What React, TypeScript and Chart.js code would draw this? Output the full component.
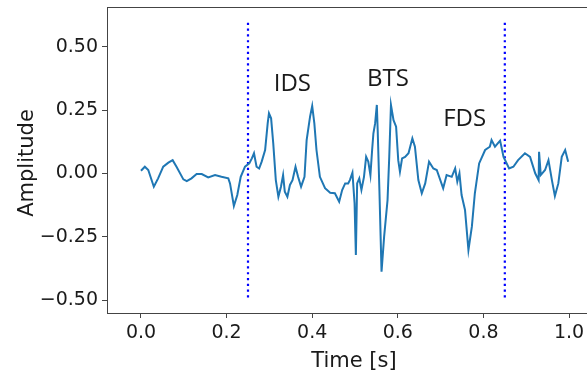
import React, { useEffect, useRef } from 'react';
import { Chart, registerables } from 'chart.js';

Chart.register(...registerables);

const timeS = [
  0.000, 0.009, 0.017, 0.030, 0.040, 0.052, 0.064, 0.074, 0.083, 0.099,
  0.107, 0.118, 0.130, 0.142, 0.157, 0.173, 0.188, 0.204, 0.208, 0.217,
  0.225, 0.233, 0.243, 0.253, 0.259, 0.264, 0.270, 0.276, 0.282, 0.290,
  0.296, 0.299, 0.304, 0.309, 0.315, 0.321, 0.327, 0.332, 0.336, 0.342,
  0.348, 0.354, 0.361, 0.367, 0.374, 0.382, 0.387, 0.395, 0.400, 0.405,
  0.410, 0.418, 0.430, 0.442, 0.453, 0.463, 0.470, 0.477, 0.484, 0.488,
  0.494, 0.499, 0.502, 0.505, 0.510, 0.515, 0.521, 0.526, 0.531, 0.536,
  0.540, 0.543, 0.547, 0.551, 0.553, 0.557, 0.562, 0.568, 0.576, 0.580,
  0.584, 0.590, 0.596, 0.601, 0.605, 0.610, 0.617, 0.625, 0.634, 0.640,
  0.648, 0.656, 0.664, 0.673, 0.683, 0.691, 0.706, 0.714, 0.726, 0.734,
  0.739, 0.744, 0.749, 0.757, 0.765, 0.773, 0.780, 0.790, 0.804, 0.815,
  0.819, 0.827, 0.839, 0.847, 0.860, 0.870, 0.881, 0.897, 0.909, 0.921,
  0.929, 0.930, 0.934, 0.944, 0.952, 0.960, 0.967, 0.975, 0.983, 0.991,
  0.998,
];

const amplitude = [
  0.011, 0.027, 0.014, -0.052, -0.019, 0.027, 0.043, 0.053, 0.027, -0.023,
  -0.030, -0.019, -0.002, -0.002, -0.015, -0.006, -0.013, -0.019, -0.039, -0.128,
  -0.085, -0.013, 0.027, 0.040, 0.060, 0.080, 0.027, 0.020, 0.047, 0.093,
  0.198, 0.238, 0.218, 0.119, -0.026, -0.092, -0.052, -0.006, -0.072, -0.092,
  -0.045, -0.026, 0.027, -0.013, -0.052, -0.013, 0.132, 0.225, 0.267, 0.198,
  0.093, -0.013, -0.058, -0.076, -0.078, -0.111, -0.065, -0.039, -0.039, -0.026,
  0.003, -0.118, -0.322, -0.039, -0.019, -0.065, -0.013, 0.066, 0.047, -0.006,
  0.093, 0.159, 0.198, 0.271, 0.172, -0.065, -0.388, -0.250, -0.105, 0.066,
  0.271, 0.211, 0.185, 0.053, 0.007, 0.060, 0.066, 0.080, 0.139, 0.106,
  -0.026, -0.078, -0.039, 0.047, 0.020, 0.014, -0.058, -0.006, -0.013, 0.020,
  -0.032, 0.001, -0.085, -0.144, -0.302, -0.210, -0.078, 0.040, 0.093, 0.106,
  0.132, 0.106, 0.130, 0.066, 0.020, 0.027, 0.053, 0.080, 0.066, 0.001,
  -0.026, 0.086, -0.006, 0.014, 0.053, -0.026, -0.089, -0.039, 0.066, 0.093,
  0.047,
];

const xTicks = [0.0, 0.2, 0.4, 0.6, 0.8, 1.0];
const yTicks = [-0.5, -0.25, 0.0, 0.25, 0.5];
const markerTimes = [0.25, 0.85];
const markerSpan = [-0.49, 0.6];
const annotationLabels = ['IDS', 'BTS', 'FDS'];
const annotationX = [0.31, 0.528, 0.706];
const annotationY = [0.326, 0.346, 0.188];
const xTitle = 'Time [s]';
const yTitle = 'Amplitude';

const TICK_FONT = { family: '"DejaVu Sans"', size: 19 };
const AXIS_COLOR = '#444';
const TEXT_COLOR = '#1a1a1a';

const overlayPlugin = {
  id: 'overlay',
  afterDraw(chart: any) {
    const { ctx, chartArea, scales } = chart;
    ctx.save();
    // top spine
    ctx.strokeStyle = AXIS_COLOR;
    ctx.lineWidth = 1;
    ctx.beginPath();
    ctx.moveTo(chartArea.left, Math.round(chartArea.top) + 0.5);
    ctx.lineTo(chartArea.right, Math.round(chartArea.top) + 0.5);
    ctx.stroke();

    // annotations
    ctx.fillStyle = TEXT_COLOR;
    ctx.font = '24px "Open Sans"';
    ctx.textAlign = 'left';
    ctx.textBaseline = 'alphabetic';
    annotationLabels.forEach((label, i) => {
      ctx.fillText(
        label,
        scales.x.getPixelForValue(annotationX[i]),
        scales.y.getPixelForValue(annotationY[i])
      );
    });

    // axis titles
    ctx.font = '21px "DejaVu Sans"';
    ctx.textAlign = 'center';
    ctx.fillText(xTitle, 354, 367);
    ctx.save();
    ctx.translate(33, (chartArea.top + chartArea.bottom) / 2 + 3);
    ctx.rotate(-Math.PI / 2);
    ctx.fillText(yTitle, 0, 0);
    ctx.restore();
    ctx.restore();
  },
};

export default function App() {
  const canvasRef = useRef<HTMLCanvasElement | null>(null);

  useEffect(() => {
    const canvas = canvasRef.current;
    if (!canvas) return;
    const signal = timeS.map((t, i) => ({ x: t, y: amplitude[i] }));
    const markerSets = markerTimes.map((t) => ({
      data: markerSpan.map((v) => ({ x: t, y: v })),
      borderColor: '#0000ff',
      borderWidth: 2.2,
      borderDash: [2.2, 3.6],
      borderCapStyle: 'butt' as const,
      pointRadius: 0,
      fill: false,
    }));

    const chart = new Chart(canvas, {
      type: 'line',
      data: {
        datasets: [
          {
            data: signal,
            borderColor: '#1f77b4',
            borderWidth: 2,
            pointRadius: 0,
            tension: 0,
            fill: false,
          },
          ...markerSets,
        ],
      },
      options: {
        responsive: false,
        animation: false,
        events: [],
        layout: { padding: { top: 7, right: 0, left: 0, bottom: 0 } },
        plugins: {
          legend: { display: false },
          tooltip: { enabled: false },
        },
        scales: {
          x: {
            type: 'linear',
            min: -0.0794,
            max: 1.042,
            afterBuildTicks: (scale: any) => {
              scale.ticks = xTicks.map((v) => ({ value: v }));
            },
            afterFit: (scale: any) => {
              scale.height = 60;
              scale.paddingLeft = 0;
              scale.paddingRight = 0;
            },
            ticks: {
              autoSkip: false,
              maxRotation: 0,
              font: TICK_FONT,
              color: TEXT_COLOR,
              padding: 4,
              callback: (v: any) => Number(v).toFixed(1),
            },
            grid: {
              drawOnChartArea: false,
              drawTicks: true,
              tickLength: 5,
              color: AXIS_COLOR,
            },
            border: { display: true, color: AXIS_COLOR, width: 1 },
          },
          y: {
            type: 'linear',
            min: -0.551,
            max: 0.658,
            afterBuildTicks: (scale: any) => {
              scale.ticks = yTicks.map((v) => ({ value: v }));
            },
            afterFit: (scale: any) => {
              scale.width = 107;
              scale.paddingTop = 0;
              scale.paddingBottom = 0;
            },
            ticks: {
              autoSkip: false,
              font: TICK_FONT,
              color: TEXT_COLOR,
              padding: 4,
              callback: (v: any) => {
                const n = Number(v);
                const s = Math.abs(n).toFixed(2);
                return n < 0 ? '\u2212' + s : s;
              },
            },
            grid: {
              drawOnChartArea: false,
              drawTicks: true,
              tickLength: 5,
              color: AXIS_COLOR,
            },
            border: { display: true, color: AXIS_COLOR, width: 1 },
          },
        },
      },
      plugins: [overlayPlugin],
    });

    return () => chart.destroy();
  }, []);

  return (
    <div style={{ position: 'absolute', left: 0, top: 0, width: 587, height: 373, background: '#fff' }}>
      <canvas ref={canvasRef} width={587} height={373} style={{ display: 'block' }} />
    </div>
  );
}
